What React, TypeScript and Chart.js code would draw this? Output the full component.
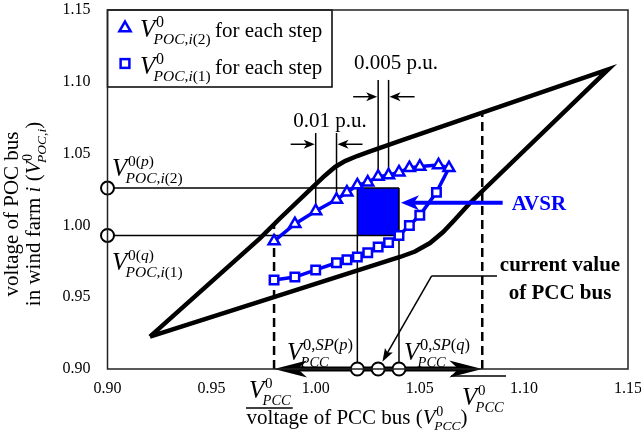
import React, { useEffect, useRef } from "react";
import { Chart, registerables } from "chart.js";

Chart.register(...registerables);

const SERIF = '"Liberation Serif", "Times New Roman", Times, serif';
const BLUE = "#0000ff";
const W = 641;
const H = 435;

// axis ticks
const xTicks = [0.9, 0.95, 1.0, 1.05, 1.1, 1.15];
const yTicks = [0.9, 0.95, 1.0, 1.05, 1.1, 1.15];

// boundary of the operating region: upper branch up to the top corner, lower branch back
const boundaryPcc = [0.9204, 0.9732, 0.9829, 0.9988, 1.0045, 1.0093, 1.0141, 1.0199, 1.0261, 1.0419, 1.1405,
  1.0741, 1.0669, 1.0612, 1.0549, 1.0477, 1.0405, 0.9204];
const boundaryPoc = [0.9225, 0.991, 1.005, 1.027, 1.0348, 1.0407, 1.0448, 1.0483, 1.0515, 1.0595, 1.1087,
  1.0156, 1.0041, 0.9954, 0.9877, 0.9818, 0.978, 0.9225];

// V_POC,i(2) for each step
const stepPcc2 = [0.98, 0.99, 1.0, 1.01, 1.015, 1.02, 1.025, 1.03, 1.035, 1.04, 1.045, 1.05, 1.059, 1.064];
const stepPoc2 = [0.989, 1.001, 1.01, 1.018, 1.023, 1.028, 1.03, 1.034, 1.035, 1.037, 1.04, 1.041, 1.042, 1.04];

// V_POC,i(1) for each step
const stepPcc1 = [0.98, 0.99, 1.0, 1.01, 1.015, 1.02, 1.025, 1.03, 1.035, 1.04, 1.045, 1.05, 1.058];
const stepPoc1 = [0.962, 0.964, 0.969, 0.974, 0.976, 0.978, 0.981, 0.985, 0.988, 0.993, 1.0, 1.007, 1.023];

// AVSR window and PCC set points
const avsrPcc = [1.02, 1.04];
const avsrPoc = [0.993, 1.026];
const pccLimits = [0.98, 1.08];
const pccLimitTop = [1.0015, 1.079];
const pccCurrent = 1.03;
const avsrArrowPoc = 1.0158;
const avsrArrowStart = 1.0898;

// step-width markers
const stepA = { pcc: [1.0, 1.01], from: [2, 3], top: 1.0643, arrow: 1.0565, text: "0.01 p.u." };
const stepB = { pcc: [1.03, 1.035], from: [7, 8], top: 1.1013, arrow: 1.0896, text: "0.005 p.u." };

// pointer from the "current value" note
const notePcc = [1.0871, 1.0557];
const notePoc = 0.9648;

type Piece = { t: string; size: number; it?: boolean; bold?: boolean };
const R = (t: string, size: number): Piece => ({ t, size });
const I = (t: string, size: number): Piece => ({ t, size, it: true });

const fontOf = (size: number, it?: boolean, bold?: boolean) =>
  `${it ? "italic " : ""}${bold ? "bold " : ""}${size}px ${SERIF}`;

function drawSeq(ctx: CanvasRenderingContext2D, x: number, y: number, pieces: Piece[], draw = true) {
  let cx = x;
  for (const p of pieces) {
    ctx.font = fontOf(p.size, p.it, p.bold);
    if (draw) ctx.fillText(p.t, cx, y);
    cx += ctx.measureText(p.t).width;
  }
  return cx;
}

// italic V with superscript and subscript
function drawVar(ctx: CanvasRenderingContext2D, x: number, y: number, S: number, sup: Piece[], sub: Piece[], draw = true) {
  ctx.font = fontOf(S, true);
  if (draw) ctx.fillText("V", x, y);
  const w = ctx.measureText("V").width;
  const e1 = drawSeq(ctx, x + w + 0.03 * S, y - 0.4 * S, sup, draw);
  const e2 = drawSeq(ctx, x + w - 0.07 * S, y + 0.27 * S, sub, draw);
  return Math.max(e1, e2);
}

function line(ctx: CanvasRenderingContext2D, x1: number, y1: number, x2: number, y2: number) {
  ctx.beginPath();
  ctx.moveTo(x1, y1);
  ctx.lineTo(x2, y2);
  ctx.stroke();
}

function arrowHead(ctx: CanvasRenderingContext2D, tx: number, ty: number, ang: number, len: number, half: number, back = 0.72) {
  const c = Math.cos(ang), s = Math.sin(ang);
  const bx = tx - c * len, by = ty - s * len;
  ctx.beginPath();
  ctx.moveTo(tx, ty);
  ctx.lineTo(bx - s * half, by + c * half);
  ctx.lineTo(tx - c * len * back, ty - s * len * back);
  ctx.lineTo(bx + s * half, by - c * half);
  ctx.closePath();
  ctx.fill();
}

function ring(ctx: CanvasRenderingContext2D, x: number, y: number, r: number) {
  ctx.beginPath();
  ctx.arc(x, y, r, 0, Math.PI * 2);
  ctx.fillStyle = "#fff";
  ctx.fill();
  ctx.lineWidth = 2;
  ctx.strokeStyle = "#000";
  ctx.stroke();
}

function triangleMark(ctx: CanvasRenderingContext2D, x: number, y: number, r: number) {
  ctx.beginPath();
  for (let k = 0; k < 3; k++) {
    const a = (k * 2 * Math.PI) / 3;
    const px = x + Math.sin(a) * r, py = y - Math.cos(a) * r;
    k === 0 ? ctx.moveTo(px, py) : ctx.lineTo(px, py);
  }
  ctx.closePath();
  ctx.fillStyle = "#fff";
  ctx.fill();
  ctx.lineWidth = 2.5;
  ctx.strokeStyle = BLUE;
  ctx.stroke();
}

function squareMark(ctx: CanvasRenderingContext2D, x: number, y: number, r: number) {
  const s = r * Math.SQRT1_2;
  ctx.fillStyle = "#fff";
  ctx.fillRect(x - s, y - s, 2 * s, 2 * s);
  ctx.lineWidth = 2.5;
  ctx.strokeStyle = BLUE;
  ctx.strokeRect(x - s, y - s, 2 * s, 2 * s);
}

const overlay = {
  id: "overlay",
  beforeDatasetsDraw(chart: any) {
    const { ctx, chartArea: a } = chart;
    const px = (v: number) => chart.scales.x.getPixelForValue(v);
    const py = (v: number) => chart.scales.y.getPixelForValue(v);
    ctx.save();

    // AVSR window
    ctx.fillStyle = BLUE;
    ctx.fillRect(px(avsrPcc[0]), py(avsrPoc[1]), px(avsrPcc[1]) - px(avsrPcc[0]), py(avsrPoc[0]) - py(avsrPoc[1]));

    ctx.strokeStyle = "#000";
    ctx.fillStyle = "#000";
    ctx.lineWidth = 1.5;
    line(ctx, a.left, py(avsrPoc[1]), px(avsrPcc[1]), py(avsrPoc[1]));
    line(ctx, a.left, py(avsrPoc[0]), px(avsrPcc[1]), py(avsrPoc[0]));
    line(ctx, px(avsrPcc[0]), a.bottom, px(avsrPcc[0]), py(stepPoc2[5]));
    line(ctx, px(avsrPcc[1]), a.bottom, px(avsrPcc[1]), py(avsrPoc[1]));

    // step-width markers
    for (const g of [stepA, stepB]) {
      const x1 = px(g.pcc[0]), x2 = px(g.pcc[1]);
      line(ctx, x1, py(stepPoc2[g.from[0]]), x1, py(g.top));
      line(ctx, x2, py(stepPoc2[g.from[1]]), x2, py(g.top));
      const ay = py(g.arrow);
      line(ctx, x1 - 25, ay, x1 - 4, ay);
      arrowHead(ctx, x1 - 1, ay, 0, 11, 4.5);
      line(ctx, x2 + 26, ay, x2 + 4, ay);
      arrowHead(ctx, x2 + 1, ay, Math.PI, 11, 4.5);
    }

    // PCC voltage limits
    ctx.setLineDash([9, 5]);
    ctx.lineWidth = 2.5;
    line(ctx, px(pccLimits[0]), a.bottom, px(pccLimits[0]), py(pccLimitTop[0]));
    line(ctx, px(pccLimits[1]), a.bottom, px(pccLimits[1]), py(pccLimitTop[1]));
    ctx.setLineDash([]);
    ctx.restore();
  },
  afterDatasetsDraw(chart: any) {
    const { ctx, chartArea: a } = chart;
    const px = (v: number) => chart.scales.x.getPixelForValue(v);
    const py = (v: number) => chart.scales.y.getPixelForValue(v);
    ctx.save();
    ctx.textBaseline = "alphabetic";
    ctx.textAlign = "left";

    // AVSR pointer
    ctx.strokeStyle = BLUE;
    ctx.fillStyle = BLUE;
    ctx.lineWidth = 4;
    const ay = py(avsrArrowPoc);
    line(ctx, px(avsrArrowStart), ay, px(avsrPcc[1]) + 12, ay);
    arrowHead(ctx, px(avsrPcc[1]) + 2, ay, Math.PI, 18, 7.5);
    ctx.font = fontOf(21, false, true);
    ctx.fillText("AVSR", px(avsrArrowStart) + 9, ay + 7);

    // PCC range arrows along the axis
    ctx.strokeStyle = "#000";
    ctx.fillStyle = "#000";
    ctx.lineWidth = 5;
    line(ctx, px(pccLimits[0]) + 24, a.bottom, px(pccLimits[1]) - 24, a.bottom);
    arrowHead(ctx, px(pccLimits[0]), a.bottom, Math.PI, 33, 8.5);
    arrowHead(ctx, px(pccLimits[1]), a.bottom, 0, 33, 8.5);

    // current value note and its pointer
    ctx.lineWidth = 1.5;
    const cx = px(pccCurrent), cy = a.bottom;
    const kx = px(notePcc[1]), ky = py(notePoc);
    line(ctx, px(notePcc[0]), ky, kx, ky);
    const ang = Math.atan2(cy - ky, cx - kx);
    const tx = cx - Math.cos(ang) * 8.5, ty = cy - Math.sin(ang) * 8.5;
    line(ctx, kx, ky, tx - Math.cos(ang) * 8, ty - Math.sin(ang) * 8);
    arrowHead(ctx, tx, ty, ang, 13, 4.5, 0.8);
    ctx.font = fontOf(21, false, true);
    ctx.textAlign = "center";
    ctx.fillText("current value", 560, 271);
    ctx.fillText("of PCC bus", 560, 299);
    ctx.textAlign = "left";

    // set-point rings
    for (const v of [avsrPcc[0], pccCurrent, avsrPcc[1]]) ring(ctx, px(v), a.bottom, 6.5);
    for (const v of avsrPoc) ring(ctx, a.left, py(v), 6.5);

    // step-width labels
    ctx.fillStyle = "#000";
    ctx.font = fontOf(21);
    ctx.textAlign = "center";
    ctx.fillText(stepA.text, 330, 127);
    ctx.fillText(stepB.text, 396, 69);
    ctx.textAlign = "left";

    // POC set-point labels
    const supP = [R("0(", 15.5), I("p", 15.5), R(")", 15.5)];
    const supQ = [R("0(", 15.5), I("q", 15.5), R(")", 15.5)];
    const sub2 = [I("POC", 15.5), R(",", 15.5), I("i", 15.5), R("(2)", 15.5)];
    const sub1 = [I("POC", 15.5), R(",", 15.5), I("i", 15.5), R("(1)", 15.5)];
    drawVar(ctx, 112, 176, 25, supP, sub2);
    drawVar(ctx, 112, 270, 25, supQ, sub1);

    // PCC set-point labels
    const pcc = [I("PCC", 14.5)];
    drawVar(ctx, 287, 360, 25, [R("0,", 16.5), I("SP", 16.5), R("(", 16.5), I("p", 16.5), R(")", 16.5)], pcc);
    drawVar(ctx, 404, 360, 25, [R("0,", 16.5), I("SP", 16.5), R("(", 16.5), I("q", 16.5), R(")", 16.5)], pcc);

    // lower / upper PCC limits
    ctx.lineWidth = 1.5;
    const e1 = drawVar(ctx, 249, 398, 25, [R("0", 15)], pcc);
    line(ctx, 246, 408, e1 + 2, 408);
    drawVar(ctx, 462, 405, 25, [R("0", 15)], pcc);
    line(ctx, 451, 376, 506, 376);

    // axis titles
    const xt = [R("voltage of PCC bus (", 21)];
    const xw0 = drawSeq(ctx, 0, 0, xt, false);
    const xw1 = drawVar(ctx, xw0, 0, 21, [R("0", 14)], [I("PCC", 13.5)], false);
    const xw = drawSeq(ctx, xw1, 0, [R(")", 21)], false);
    const xs = 357 - xw / 2;
    const e2 = drawSeq(ctx, xs, 424, xt);
    const e3 = drawVar(ctx, e2, 424, 21, [R("0", 14)], [I("PCC", 13.5)]);
    drawSeq(ctx, e3, 424, [R(")", 21)]);

    ctx.save();
    ctx.translate(18, 214);
    ctx.rotate(-Math.PI / 2);
    ctx.font = fontOf(21);
    ctx.textAlign = "center";
    ctx.fillText("voltage of POC bus", 0, 0);
    ctx.textAlign = "left";
    const yt = [R("in wind farm ", 21), I("i", 21), R(" (", 21)];
    const ysub = [I("POC", 13.5), R(",", 13.5), I("i", 13.5)];
    const y0 = drawSeq(ctx, 0, 0, yt, false);
    const y1 = drawVar(ctx, y0, 0, 21, [R("0", 14)], ysub, false);
    const yw = drawSeq(ctx, y1, 0, [R(")", 21)], false);
    ctx.translate(-yw / 2, 22);
    const f0 = drawSeq(ctx, 0, 0, yt);
    const f1 = drawVar(ctx, f0, 0, 21, [R("0", 14)], ysub);
    drawSeq(ctx, f1, 0, [R(")", 21)]);
    ctx.restore();

    // legend
    const lx = a.left, lt = a.top, lr = 332, lb = 87;
    ctx.fillStyle = "#fff";
    ctx.fillRect(lx, lt, lr - lx, lb - lt);
    ctx.strokeStyle = "#000";
    ctx.lineWidth = 1.5;
    ctx.strokeRect(lx, lt, lr - lx, lb - lt);
    triangleMark(ctx, 125, 28, 6.5);
    squareMark(ctx, 125, 63.5, 6.2);
    ctx.fillStyle = "#000";
    drawVar(ctx, 140, 37, 25, [R("0", 16)], sub2);
    drawVar(ctx, 140, 74, 25, [R("0", 16)], sub1);
    ctx.font = fontOf(21);
    ctx.fillText("for each step", 215, 37);
    ctx.fillText("for each step", 215, 74);

    // plot frame
    ctx.strokeStyle = "#222";
    ctx.lineWidth = 1.5;
    ctx.strokeRect(a.left, a.top, a.right - a.left, a.bottom - a.top);
    ctx.restore();
  },
};

const toPoints = (xs: number[], ys: number[]) => xs.map((x, i) => ({ x, y: ys[i] }));

const noPad = (s: any) => {
  s.paddingTop = 0;
  s.paddingBottom = 0;
  s.paddingLeft = 0;
  s.paddingRight = 0;
};

export default function App() {
  const ref = useRef<HTMLCanvasElement>(null);
  useEffect(() => {
    const lastTri = { x: stepPcc2[stepPcc2.length - 1], y: stepPoc2[stepPoc2.length - 1] };
    const chart = new Chart(ref.current as HTMLCanvasElement, {
      type: "scatter",
      data: {
        datasets: [
          {
            label: "V_POC,i(2)",
            data: toPoints(stepPcc2, stepPoc2),
            showLine: true,
            borderColor: BLUE,
            borderWidth: 3.5,
            pointStyle: "triangle",
            pointRadius: 6.3,
            pointBorderWidth: 2.5,
            pointBackgroundColor: "#fff",
            pointBorderColor: BLUE,
            order: 0,
          },
          {
            label: "V_POC,i(1)",
            data: [...toPoints(stepPcc1, stepPoc1), lastTri],
            showLine: true,
            borderColor: BLUE,
            borderWidth: 3.5,
            pointStyle: "rect",
            pointRadius: (c: any) => (c.dataIndex === stepPcc1.length ? 0 : 6),
            pointBorderWidth: 2.5,
            pointBackgroundColor: "#fff",
            pointBorderColor: BLUE,
            order: 1,
          },
          {
            label: "boundary",
            data: toPoints(boundaryPcc, boundaryPoc),
            showLine: true,
            borderColor: "#000",
            borderWidth: 4.5,
            pointRadius: 0,
            borderJoinStyle: "miter",
            order: 2,
          },
        ],
      },
      options: {
        responsive: false,
        animation: false,
        events: [],
        layout: { padding: { left: 0, top: 10, right: 13, bottom: 0 } },
        plugins: { legend: { display: false }, tooltip: { enabled: false } },
        scales: {
          x: {
            type: "linear",
            min: 0.9,
            max: 1.15,
            grid: { display: false, drawTicks: false },
            border: { display: false },
            afterBuildTicks: (s: any) => {
              s.ticks = xTicks.map((value) => ({ value }));
            },
            afterFit: (s: any) => {
              s.height = 66;
              noPad(s);
            },
            ticks: {
              autoSkip: false,
              maxRotation: 0,
              padding: 10,
              color: "#000",
              font: { family: SERIF, size: 16 },
              callback: (v: any) => Number(v).toFixed(2),
            },
          },
          y: {
            type: "linear",
            min: 0.9,
            max: 1.15,
            grid: { display: false, drawTicks: false },
            border: { display: false },
            afterBuildTicks: (s: any) => {
              s.ticks = yTicks.map((value) => ({ value }));
            },
            afterFit: (s: any) => {
              s.width = 107.5;
              noPad(s);
            },
            ticks: {
              autoSkip: false,
              padding: 17,
              color: "#000",
              font: { family: SERIF, size: 16 },
              callback: (v: any) => Number(v).toFixed(2),
            },
          },
        },
      },
      plugins: [overlay],
    } as any);
    return () => chart.destroy();
  }, []);
  return (
    <div style={{ position: "absolute", left: 0, top: 0, width: W, height: H, background: "#fff" }}>
      <canvas ref={ref} width={W} height={H} style={{ display: "block" }} />
    </div>
  );
}
